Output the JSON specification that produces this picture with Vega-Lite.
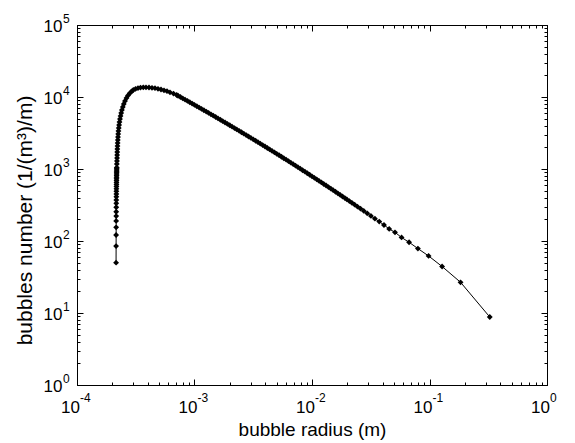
{
  "$schema": "https://vega.github.io/schema/vega-lite/v6.json",
  "width": 470,
  "height": 360,
  "autosize": {"type": "none"},
  "padding": {"left": 77, "top": 25, "right": 28, "bottom": 58},
  "background": "white",
  "config": {"view": {"stroke": "black", "strokeWidth": 1}, "font": "Liberation Sans"},
  "data": {"values": [
    {"r":0.00021505,"n":50},{"r":0.00021516,"n":85},{"r":0.00021527,"n":121},{"r":0.00021538,"n":155},
    {"r":0.00021549,"n":190},{"r":0.0002156,"n":222},{"r":0.00021571,"n":255},{"r":0.00021582,"n":294},
    {"r":0.00021593,"n":334},{"r":0.00021604,"n":371},{"r":0.00021615,"n":412},{"r":0.00021626,"n":450},
    {"r":0.00021637,"n":491},{"r":0.00021648,"n":530},{"r":0.00021659,"n":571},{"r":0.0002167,"n":610},
    {"r":0.00021681,"n":650},{"r":0.00021692,"n":690},{"r":0.00021703,"n":731},{"r":0.00021714,"n":770},
    {"r":0.00021725,"n":810},{"r":0.00021736,"n":851},{"r":0.00021747,"n":890},{"r":0.00021758,"n":930},
    {"r":0.00021769,"n":971},{"r":0.0002178,"n":1010},{"r":0.00021791,"n":1050},
    {"r":0.00021835,"n":1173},{"r":0.00021878,"n":1292},{"r":0.00021921,"n":1422},{"r":0.00021964,"n":1565},
    {"r":0.00022007,"n":1722},{"r":0.0002205,"n":1895},{"r":0.00022115,"n":2086},{"r":0.0002218,"n":2296},
    {"r":0.00022245,"n":2527},{"r":0.00022333,"n":2783},{"r":0.0002242,"n":3062},{"r":0.00022531,"n":3371},
    {"r":0.00022664,"n":3710},{"r":0.0002282,"n":4084},{"r":0.00023,"n":4495},{"r":0.00023226,"n":4947},
    {"r":0.00023478,"n":5446},{"r":0.00023778,"n":5995},{"r":0.00024106,"n":6598},{"r":0.00024535,"n":7261},
    {"r":0.00025021,"n":7992},{"r":0.00025616,"n":8799},{"r":0.00026382,"n":9685},{"r":0.00027168,"n":10491},
    {"r":0.00028089,"n":11256},{"r":0.00029097,"n":11926},{"r":0.00030141,"n":12511},{"r":0.00031467,"n":12958},
    {"r":0.00033048,"n":13295},{"r":0.00034709,"n":13509},
    {"r":0.0003667,"n":13640},{"r":0.0003866,"n":13618},{"r":0.00041,"n":13553},{"r":0.0004348,"n":13424},
    {"r":0.0004611,"n":13253},{"r":0.0004891,"n":13001},{"r":0.0005187,"n":12716},{"r":0.0005501,"n":12391},
    {"r":0.0005834,"n":12040},{"r":0.0006187,"n":11624},{"r":0.0006626,"n":11150},{"r":0.0007055,"n":10660},
    {"r":0.00072444,"n":10414},{"r":0.00075858,"n":9990},{"r":0.00079433,"n":9582},{"r":0.00083176,"n":9189},
    {"r":0.00087096,"n":8812},{"r":0.00091201,"n":8448},{"r":0.00095499,"n":8099},{"r":0.001,"n":7763},
    {"r":0.0010471,"n":7440},{"r":0.0010965,"n":7130},{"r":0.0011482,"n":6832},{"r":0.0012023,"n":6545},
    {"r":0.0012589,"n":6269},{"r":0.0013183,"n":6005},{"r":0.0013804,"n":5750},{"r":0.0014454,"n":5506},
    {"r":0.0015136,"n":5272},{"r":0.0015849,"n":5047},{"r":0.0016596,"n":4830},{"r":0.0017378,"n":4623},
    {"r":0.0018197,"n":4424},{"r":0.0019055,"n":4233},{"r":0.0019953,"n":4049},{"r":0.0020893,"n":3873},
    {"r":0.0021878,"n":3705},{"r":0.0022909,"n":3543},{"r":0.0023988,"n":3388},{"r":0.0025119,"n":3239},
    {"r":0.0026303,"n":3096},{"r":0.0027542,"n":2959},{"r":0.002884,"n":2828},{"r":0.00302,"n":2702},
    {"r":0.0031623,"n":2582},{"r":0.0033113,"n":2467},{"r":0.0034674,"n":2356},{"r":0.0036308,"n":2250},
    {"r":0.0038019,"n":2149},{"r":0.0039811,"n":2052},{"r":0.0041687,"n":1959},{"r":0.0043652,"n":1870},
    {"r":0.0045709,"n":1785},{"r":0.0047863,"n":1703},{"r":0.0050119,"n":1625},{"r":0.0052481,"n":1551},
    {"r":0.0054954,"n":1479},{"r":0.0057544,"n":1411},{"r":0.0060256,"n":1346},{"r":0.0063096,"n":1283},
    {"r":0.0066069,"n":1224},{"r":0.0069183,"n":1166},{"r":0.0072444,"n":1112},{"r":0.0075858,"n":1060},
    {"r":0.0079433,"n":1010},{"r":0.0083176,"n":962},{"r":0.0087096,"n":917},{"r":0.0091201,"n":873},
    {"r":0.0095499,"n":832},{"r":0.01,"n":792},{"r":0.010471,"n":754},{"r":0.010965,"n":718},
    {"r":0.011482,"n":684},{"r":0.012023,"n":651},{"r":0.012589,"n":619},{"r":0.013183,"n":590},
    {"r":0.013804,"n":561},{"r":0.014454,"n":534},{"r":0.015136,"n":508},{"r":0.015849,"n":483},
    {"r":0.016596,"n":459},{"r":0.017378,"n":437},{"r":0.018197,"n":415},{"r":0.019055,"n":395},
    {"r":0.019814,"n":378},{"r":0.02079,"n":358},{"r":0.021867,"n":339},{"r":0.023063,"n":320},
    {"r":0.024396,"n":300},{"r":0.025893,"n":281},{"r":0.027586,"n":262},{"r":0.029516,"n":242},
    {"r":0.031736,"n":223},{"r":0.034317,"n":204},{"r":0.037355,"n":186},{"r":0.04098,"n":167},
    {"r":0.04539,"n":147},{"r":0.05086,"n":132},{"r":0.05784,"n":112},{"r":0.06702,"n":96},
    {"r":0.07968,"n":78.5},{"r":0.09823,"n":62},{"r":0.12804,"n":44.2},{"r":0.18382,"n":26.7},
    {"r":0.3257,"n":8.8}
  ]},
  "layer": [
    {
      "mark": {"type": "line", "color": "black", "strokeWidth": 1},
      "encoding": {
        "x": {"field": "r", "type": "quantitative",
          "scale": {"type": "log", "domain": [0.0001, 1]},
          "axis": {"orient": "bottom",
            "values": [0.0001,0.0002,0.0003,0.0004,0.0005,0.0006,0.0007,0.0008,0.0009,0.001,0.002,0.003,0.004,0.005,0.006,0.007,0.008,0.009,0.01,0.02,0.03,0.04,0.05,0.06,0.07,0.08,0.09,0.1,0.2,0.3,0.4,0.5,0.6,0.7,0.8,0.9,1],
            "labelExpr": "abs(log(datum.value)/LN10 - round(log(datum.value)/LN10)) < 0.001 ? '10' : ''",
            "tickSize": {"condition": {"test": "abs(log(datum.value)/LN10 - round(log(datum.value)/LN10)) < 0.001", "value": -6}, "value": -3},
            "tickColor": "black", "tickWidth": 1, "domainColor": "black", "grid": false,
            "labelFont": "Liberation Sans", "labelFontSize": 17, "labelColor": "black",
            "labelAlign": "right", "labelBaseline": "top", "labelPadding": 20.5, "labelOffset": 2.5,
            "labelFlush": false, "labelOverlap": false, "labelBound": false,
            "title": "bubble radius (m)", "titleFont": "Liberation Sans", "titleFontSize": 19,
            "titleFontWeight": "normal", "titleColor": "black", "titleBaseline": "alphabetic", "titleY": 50}},
        "y": {"field": "n", "type": "quantitative",
          "scale": {"type": "log", "domain": [1, 100000]},
          "axis": {"orient": "left",
            "values": [1,2,3,4,5,6,7,8,9,10,20,30,40,50,60,70,80,90,100,200,300,400,500,600,700,800,900,1000,2000,3000,4000,5000,6000,7000,8000,9000,10000,20000,30000,40000,50000,60000,70000,80000,90000,100000],
            "labelExpr": "abs(log(datum.value)/LN10 - round(log(datum.value)/LN10)) < 0.001 ? '10' : ''",
            "tickSize": {"condition": {"test": "abs(log(datum.value)/LN10 - round(log(datum.value)/LN10)) < 0.001", "value": -6}, "value": -3},
            "tickColor": "black", "tickWidth": 1, "domainColor": "black", "grid": false,
            "labelFont": "Liberation Sans", "labelFontSize": 17, "labelColor": "black",
            "labelAlign": "right", "labelBaseline": "middle", "labelPadding": 21, "labelOffset": 1,
            "labelFlush": false, "labelOverlap": false, "labelBound": false,
            "title": "bubbles number (1/(m³)/m)", "titleFont": "Liberation Sans", "titleFontSize": 21,
            "titleFontWeight": "normal", "titleColor": "black", "titleBaseline": "alphabetic",
            "titleAlign": "center", "titleX": -46, "titleY": 195}}
      }
    },
    {
      "mark": {"type": "point", "shape": "diamond", "filled": true, "color": "black", "size": 34, "opacity": 1},
      "encoding": {
        "x": {"field": "r", "type": "quantitative",
          "scale": {"type": "log", "domain": [0.0001, 1]},
          "axis": {"orient": "bottom", "values": [0.0001,0.001,0.01,0.1,1],
            "labelExpr": "'' + round(log(datum.value)/LN10)",
            "ticks": false, "domain": false, "grid": false,
            "labelFont": "Liberation Sans", "labelFontSize": 12, "labelColor": "black",
            "labelAlign": "left", "labelBaseline": "top", "labelPadding": 7, "labelOffset": 2.5,
            "labelFlush": false, "labelOverlap": false, "labelBound": false, "title": null}},
        "y": {"field": "n", "type": "quantitative",
          "scale": {"type": "log", "domain": [1, 100000]},
          "axis": {"orient": "left", "values": [1,10,100,1000,10000,100000],
            "labelExpr": "'' + round(log(datum.value)/LN10)",
            "ticks": false, "domain": false, "grid": false,
            "labelFont": "Liberation Sans", "labelFontSize": 12, "labelColor": "black",
            "labelAlign": "left", "labelBaseline": "middle", "labelPadding": 14.5, "labelOffset": -7,
            "labelFlush": false, "labelOverlap": false, "labelBound": false, "title": null}}
      }
    },
    {
      "mark": {"type": "point", "opacity": 0},
      "encoding": {
        "x": {"field": "r", "type": "quantitative",
          "scale": {"type": "log", "domain": [0.0001, 1]},
          "axis": {"orient": "top",
            "values": [0.0001,0.0002,0.0003,0.0004,0.0005,0.0006,0.0007,0.0008,0.0009,0.001,0.002,0.003,0.004,0.005,0.006,0.007,0.008,0.009,0.01,0.02,0.03,0.04,0.05,0.06,0.07,0.08,0.09,0.1,0.2,0.3,0.4,0.5,0.6,0.7,0.8,0.9,1],
            "labels": false,
            "tickSize": {"condition": {"test": "abs(log(datum.value)/LN10 - round(log(datum.value)/LN10)) < 0.001", "value": -6}, "value": -3},
            "tickColor": "black", "tickWidth": 1, "domainColor": "black", "grid": false, "title": null}},
        "y": {"field": "n", "type": "quantitative",
          "scale": {"type": "log", "domain": [1, 100000]},
          "axis": {"orient": "right",
            "values": [1,2,3,4,5,6,7,8,9,10,20,30,40,50,60,70,80,90,100,200,300,400,500,600,700,800,900,1000,2000,3000,4000,5000,6000,7000,8000,9000,10000,20000,30000,40000,50000,60000,70000,80000,90000,100000],
            "labels": false,
            "tickSize": {"condition": {"test": "abs(log(datum.value)/LN10 - round(log(datum.value)/LN10)) < 0.001", "value": -6}, "value": -3},
            "tickColor": "black", "tickWidth": 1, "domainColor": "black", "grid": false, "title": null}}
      }
    }
  ],
  "resolve": {"axis": {"x": "independent", "y": "independent"}}
}
